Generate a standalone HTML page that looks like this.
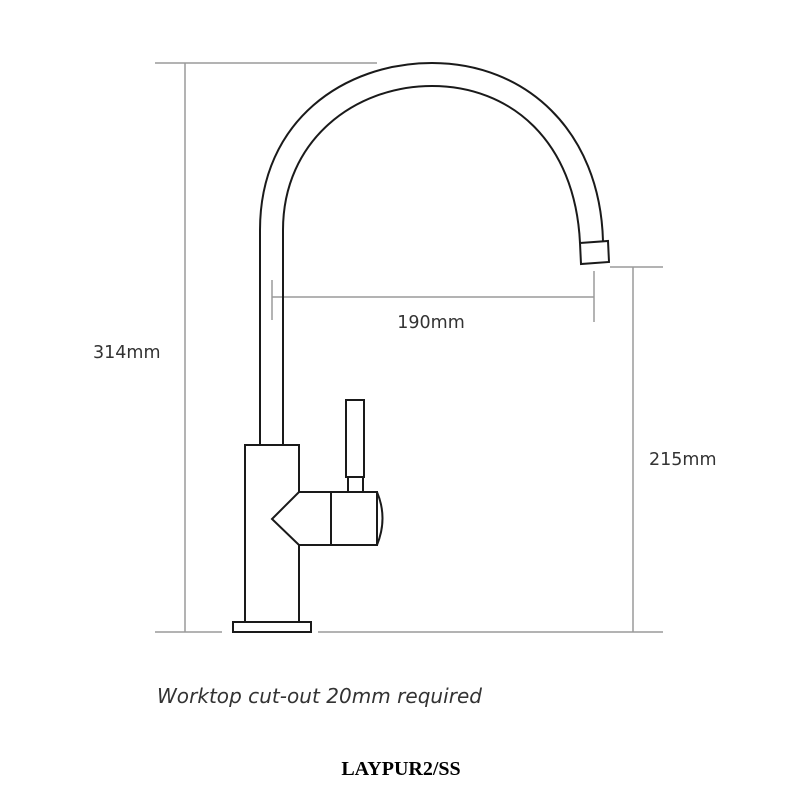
<!DOCTYPE html>
<html><head><style>
html,body{margin:0;padding:0;background:#fff;}
</style></head><body>
<svg width="800" height="800" viewBox="0 0 800 800" xmlns="http://www.w3.org/2000/svg">
<g stroke="#9a9a9a" stroke-width="1.5" fill="none">
<line x1="155" y1="63" x2="377" y2="63"/>
<line x1="185" y1="63" x2="185" y2="632"/>
<line x1="155" y1="632" x2="222" y2="632"/>
<line x1="318" y1="632" x2="663" y2="632"/>
<line x1="610" y1="267" x2="663" y2="267"/>
<line x1="633" y1="267" x2="633" y2="632"/>
<line x1="272" y1="297" x2="594" y2="297"/>
<line x1="272" y1="280" x2="272" y2="320"/>
<line x1="594" y1="271" x2="594" y2="322"/>
</g>
<g stroke="#1a1a1a" stroke-width="2" fill="#fff">
<path d="M260,445 L260,230 C260,120 345,63 432,63 C525,63 600,130 603,241" fill="none"/>
<path d="M283,445 L283,230 C283,140 355,86 432,86 C510,86 575,140 580,243" fill="none"/>
<polygon points="580,243 608,241 609,262 581,264"/>
<rect x="245" y="445" width="54" height="177"/>
<rect x="233" y="622" width="78" height="10"/>
<rect x="346" y="400" width="18" height="77"/>
<rect x="348" y="477" width="15" height="15"/>
<polygon points="299,492 377,492 377,545 299,545 272,519"/>
<line x1="331" y1="492" x2="331" y2="545"/>
<path d="M377,492 Q388,518 377,545" fill="none"/>
</g>
<g font-family="'DejaVu Sans','Liberation Sans',sans-serif" fill="#333" font-size="17.5">
<text x="93" y="358">314mm</text>
<text x="431" y="328" text-anchor="middle">190mm</text>
<text x="649" y="465">215mm</text>
<text x="157" y="703" font-style="italic" font-size="20" textLength="325">Worktop cut-out 20mm required</text>
</g>
<text x="401" y="775" text-anchor="middle" font-family="'Liberation Serif',serif" font-weight="bold" font-size="20" fill="#000">LAYPUR2/SS</text>
</svg>
</body></html>
